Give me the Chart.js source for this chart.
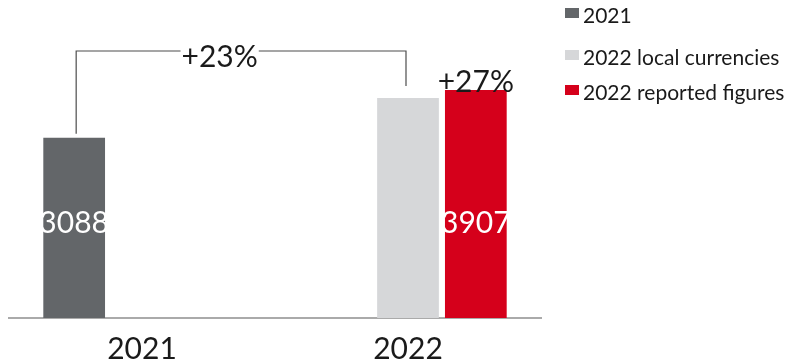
<!DOCTYPE html>
<html>
<head>
<meta charset="utf-8">
<script src="https://cdn.jsdelivr.net/npm/chart.js@4.4.0/dist/chart.umd.min.js"></script>
<style>
  html, body { margin: 0; padding: 0; background: #fff; }
  canvas { display: block; }
</style>
</head>
<body>
<canvas id="omzet" width="807" height="361"></canvas>
<script>
const years = ["2021", "2022"];
const seriesNames = ["2021", "2022 local currencies", "2022 reported figures"];
const values2021 = [3088, null];
const valuesLocal = [null, 3770];
const valuesReported = [null, 3907];
const growthLocal = "+23%";
const growthReported = "+27%";

const colors = ["#636669", "#d6d7d9", "#d5001b"];
const fontFamily = "Lato, 'Open Sans', sans-serif";
const textColor = "#1a1a1a";

// legend rows on the right: baseline of each text line
const legendRows = [23, 65, 100];

const annotations = {
    id: "annotations",
    afterDatasetsDraw(chart) {
        const ctx = chart.ctx;
        const y = chart.scales.y;
        const dark = chart.getDatasetMeta(0).data[0];
        const light = chart.getDatasetMeta(1).data[1];
        const red = chart.getDatasetMeta(2).data[1];
        ctx.save();

        // value labels, both at the same height inside the bars
        ctx.font = "30px " + fontFamily;
        ctx.fillStyle = "#ffffff";
        ctx.textAlign = "center";
        ctx.textBaseline = "middle";
        const labelY = y.getPixelForValue(values2021[0] / 2) - 5;
        ctx.fillText(String(values2021[0]), dark.x, labelY);
        ctx.fillText(String(valuesReported[1]), red.x, labelY);

        // bracket between 2021 and 2022 local currencies
        const topY = chart.chartArea.top + 41;
        const x1 = dark.x + 2;
        const x2 = light.x - 2;
        ctx.strokeStyle = "#4d4d4d";
        ctx.lineWidth = 1.2;
        ctx.beginPath();
        ctx.moveTo(x1, dark.y - 4);
        ctx.lineTo(x1, topY);
        ctx.lineTo(x2, topY);
        ctx.lineTo(x2, light.y - 12);
        ctx.stroke();

        ctx.font = "30px " + fontFamily;
        ctx.textBaseline = "alphabetic";
        const gx = x1 + (x2 - x1) * 0.435;
        const w = ctx.measureText(growthLocal).width;
        ctx.fillStyle = "#ffffff";
        ctx.fillRect(gx - w / 2 - 1, topY - 3, w + 2, 6);
        ctx.fillStyle = textColor;
        ctx.fillText(growthLocal, gx, topY + 15.5);

        ctx.fillText(growthReported, red.x, red.y + 2);

        // legend
        ctx.font = "21px " + fontFamily;
        ctx.textAlign = "left";
        seriesNames.forEach((name, i) => {
            const base = legendRows[i];
            ctx.fillStyle = colors[i];
            ctx.fillRect(565, base - 15, 14, 10);
            ctx.fillStyle = textColor;
            ctx.fillText(name, 583, base);
        });
        ctx.restore();
    }
};

new Chart(document.getElementById("omzet"), {
    type: "bar",
    data: {
        labels: years,
        datasets: [
            { label: seriesNames[0], data: values2021, backgroundColor: colors[0] },
            { label: seriesNames[1], data: valuesLocal, backgroundColor: colors[1] },
            { label: seriesNames[2], data: valuesReported, backgroundColor: colors[2] }
        ]
    },
    options: {
        responsive: false,
        animation: false,
        devicePixelRatio: 1,
        layout: { padding: { left: 9, right: 266, top: 10, bottom: 0 } },
        datasets: { bar: { categoryPercentage: 0.765, barPercentage: 0.91 } },
        scales: {
            x: {
                grid: { display: false, drawTicks: false },
                border: { display: true, color: "#aaaaaa", width: 2 },
                ticks: { color: textColor, padding: 13, font: { family: fontFamily, size: 30 } },
                afterFit(scale) {
                    scale.height = 43;
                }
            },
            y: { display: false, min: 0, max: 5280 }
        },
        plugins: {
            legend: { display: false },
            tooltip: { enabled: false }
        }
    },
    plugins: [annotations]
});
</script>
</body>
</html>
